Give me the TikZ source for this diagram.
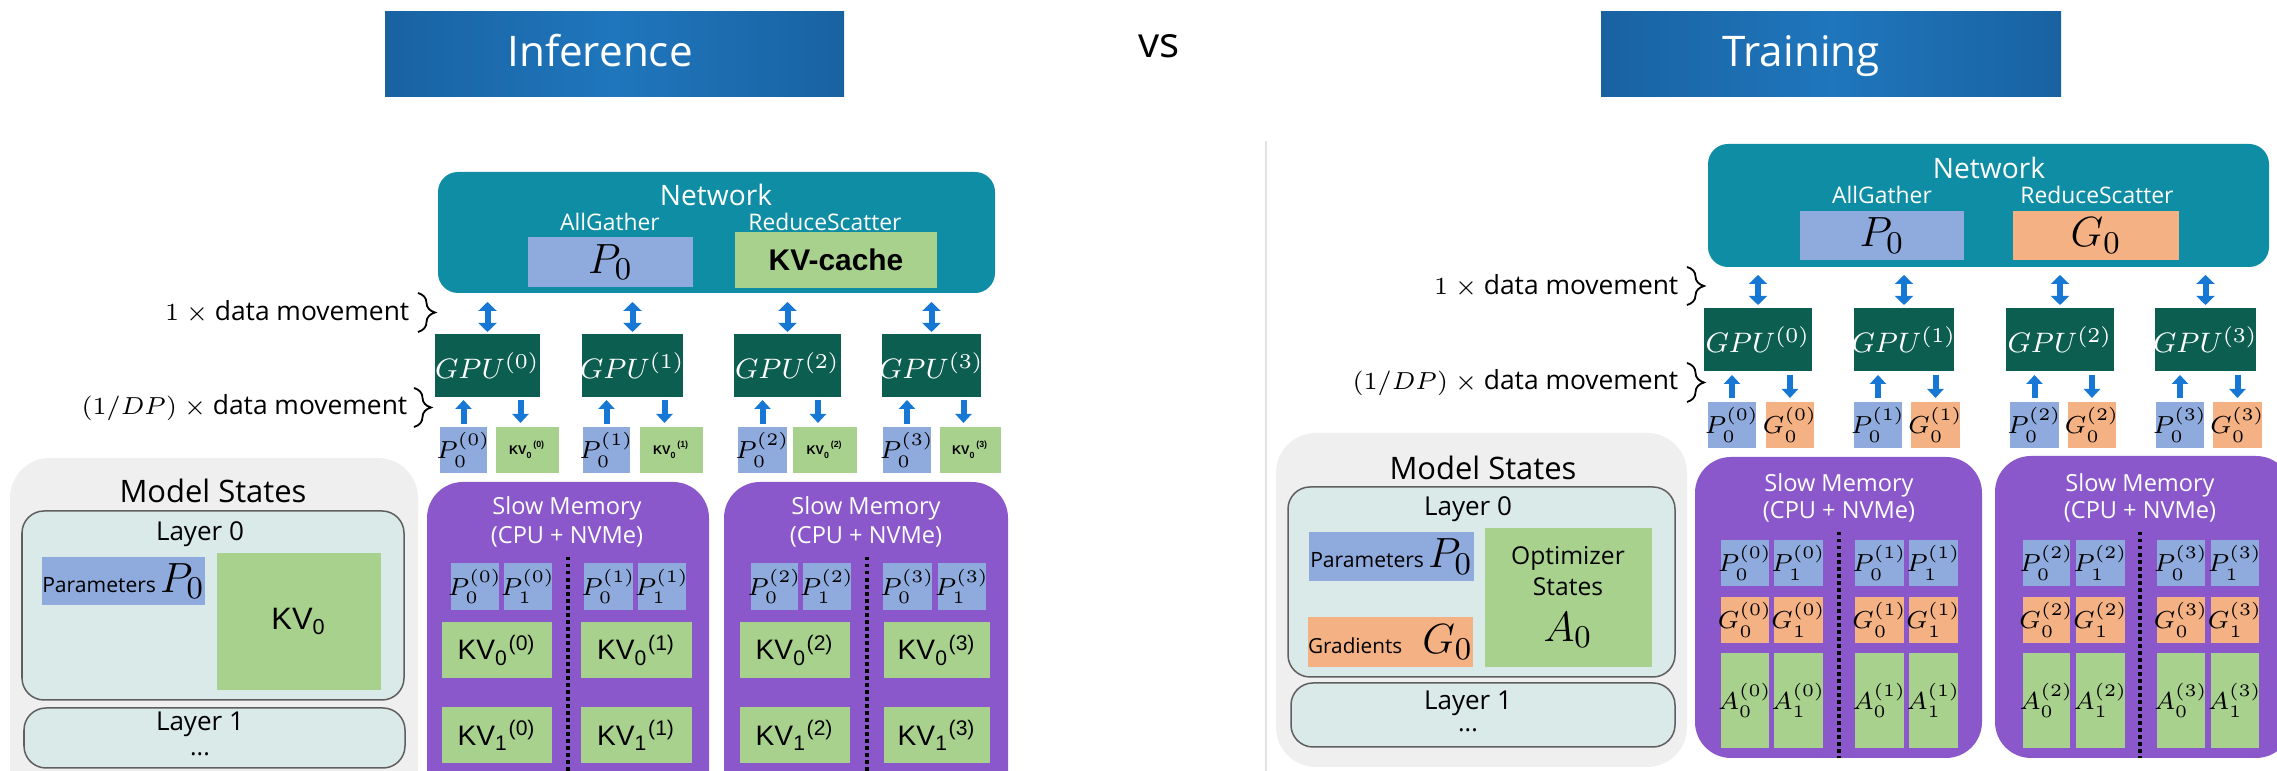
\documentclass[tikz,border=0pt]{standalone}
\usepackage{fontspec}
\setmainfont{Open Sans}
\newfontfamily\arialf{Liberation Sans}
\usetikzlibrary{arrows.meta,decorations.pathreplacing,calc}
\definecolor{cTitleA}{RGB}{25,98,162}
\definecolor{cTitleB}{RGB}{31,118,188}
\definecolor{cNet}{RGB}{14,141,164}
\definecolor{cP}{RGB}{143,170,220}
\definecolor{cK}{RGB}{169,209,142}
\definecolor{cG}{RGB}{244,177,131}
\definecolor{cGPU}{RGB}{12,94,80}
\definecolor{cArr}{RGB}{22,119,212}
\definecolor{cPur}{RGB}{138,88,202}
\definecolor{cPanel}{RGB}{239,239,239}
\definecolor{cLayer}{RGB}{217,234,233}
\definecolor{cLayerB}{RGB}{95,95,95}
\definecolor{cEdge}{RGB}{226,226,226}
\newcommand\fsz[1]{\fontsize{#1}{#1}\selectfont}
\newcommand\tkv[1]{{\arialf\bfseries\fsz{3.6}KV\textsubscript{0}\textsuperscript{(#1)}}}
\newcommand\kvc[2]{{\arialf\fsz{8}KV\textsubscript{#1}\textsuperscript{(#2)}}}
% box node: style, name, x1, y1, x2, y2, text (text never widens the box)
\newcommand\bxn[7]{\node[#1,minimum width={(#5-#3)*0.01cm},minimum height={(#6-#4)*0.01cm}] (#2) at ({(#3+#5)/2},{(#4+#6)/2}) {\makebox[0pt]{#7}};}
\begin{document}
\begin{tikzpicture}[x=0.01cm,y=-0.01cm,
 bx/.style={inner sep=0pt,outer sep=0pt},
 pb/.style={bx,fill=cP}, gb/.style={bx,fill=cG}, kb/.style={bx,fill=cK},
 gpu/.style={bx,fill=cGPU,text=white,font=\fsz{8.3}},
 cellf/.style={font=\fsz{7.5}},
 big/.style={font=\fsz{12.5}},
 net/.style={bx,fill=cNet,rounded corners=0.2cm},
 nettitle/.style={text=white,font=\fsz{8},inner sep=0pt},
 netsub/.style={text=white,font=\fsz{6.5},inner sep=0pt},
 title/.style={bx,left color=cTitleA,right color=cTitleA,middle color=cTitleB},
 titletext/.style={text=white,font=\fsz{12},anchor=base,inner sep=0pt},
 purp/.style={bx,fill=cPur,rounded corners=0.36cm},
 smt/.style={text=white,font=\fsz{6.7},inner sep=0pt},
 panel/.style={bx,fill=cPanel,rounded corners=0.4cm},
 layer/.style={bx,fill=cLayer,draw=cLayerB,line width=0.015cm,rounded corners=0.22cm},
 lt/.style={font=\fsz{7.4},inner sep=0pt},
 mst/.style={font=\fsz{8.8},inner sep=0pt},
 dm/.style={font=\fsz{7.5},anchor=east,inner sep=0pt},
 brc/.style={decorate,decoration={brace,amplitude=0.17cm},line width=0.018cm},
 dbl/.style={draw=cArr,line width=0.06cm,arrows={Triangle[width=0.18cm,length=0.09cm]-Triangle[width=0.18cm,length=0.09cm]}},
 sgl/.style={draw=cArr,line width=0.06cm,arrows={-Triangle[width=0.16cm,length=0.09cm]}},
 dotl/.style={line width=0.035cm,dash pattern=on 0.035cm off 0.035cm},
]
\useasboundingbox (0,0) rectangle (2277,771);
\clip (0,0) rectangle (2277,771);
\fill[white] (0,0) rectangle (2277,771);

% ---------- titles
\bxn{title}{tinf}{385}{12}{844}{97}{}
\node[titletext] (tinft) at (600,67) {Inference};
\node[font=\fsz{12},anchor=base,inner sep=0pt] (vs) at (1159,58) {vs};
\bxn{title}{ttr}{1601}{12}{2061}{97}{}
\node[titletext] (ttrt) at (1801,67) {Training};

% ================= LEFT: inference
\bxn{net}{lnet}{438}{172}{995}{293}{}
\node[nettitle] (lnett) at (716,195) {Network};
\node[netsub] (lag) at (610,222) {AllGather};
\node[netsub] (lrs) at (825,222) {ReduceScatter};
\bxn{pb,big}{lnp}{528}{237}{693}{287}{$P_0$}
\bxn{kb,font={\arialf\bfseries\fsz{8.5}}}{lnk}{735}{232}{937}{288}{KV-cache}

\foreach \i/\a/\b in {0/435/540,1/582/683,2/734/841,3/882/981}
  {\bxn{gpu}{lg\i}{\a}{334}{\b}{397}{$GPU^{(\i)}$}}

\foreach \i/\a/\b/\c/\d in {0/440/487/496/559,1/583/630/640/703,2/738/787/793/857,3/883/931/940/1001}{
  \bxn{pb,cellf}{lsp\i}{\a}{427}{\b}{473}{$P_0^{(\i)}$}
  \bxn{kb}{lsk\i}{\c}{427}{\d}{473}{\tkv{\i}}
  \draw[dbl,shorten <=0.09cm,shorten >=0.02cm] (lg\i.north |- lnet.south) -- (lg\i.north);
  \draw[sgl,shorten <=0.03cm,shorten >=0.03cm] (lsp\i.north) -- (lsp\i.north |- lg\i.south);
  \draw[sgl,shorten <=0.03cm,shorten >=0.04cm] ($(lsk\i.north |- lg\i.south)+(-7,0)$) -- ($(lsk\i.north)+(-7,0)$);
}

\node[dm] (ldm1) at (410,312) {$1$ $\times$ data movement};
\node[dm] (ldm2) at (408,408) {$(1/DP)$ $\times$ data movement};
\draw[brc] (418,293) -- (418,332);
\draw[brc] (414,388) -- (414,427);

% model states left
\bxn{panel}{lpanel}{10}{458}{418}{810}{}
\node[mst] (lmst) at (213,491) {Model States};
\bxn{layer}{ll0}{22}{511}{404}{700}{}
\node[lt] (ll0t) at (200,534) {Layer 0};
\bxn{pb}{lpar}{42}{557}{205}{605}{{\fsz{6}Parameters}\hspace{0.04cm}{\fsz{12.5}$P_0$}}
\bxn{kb,font={\arialf\fsz{8.8}}}{lkv}{217}{553}{381}{690}{KV\textsubscript{0}}
\bxn{layer}{ll1}{24}{708}{405}{768}{}
\node[lt] (ll1t) at (200,724) {Layer 1};
\node[font=\fsz{7},inner sep=0pt] (ll1d) at (200,754) {...};

% slow memory left
\bxn{purp}{lm1}{427}{482}{709}{830}{}
\bxn{purp}{lm2}{724}{482}{1008}{830}{}
\node[smt] (lm1a) at (567,508) {Slow Memory};
\node[smt] (lm1b) at (567,537) {(CPU + NVMe)};
\node[smt] (lm2a) at (866,508) {Slow Memory};
\node[smt] (lm2b) at (866,537) {(CPU + NVMe)};
\draw[dotl] (568,557) -- (568,771);
\draw[dotl] (867,557) -- (867,771);
\foreach \a/\b/\s/\g in {451/499/0/0,504/552/1/0,584/633/0/1,638/686/1/1,751/798/0/2,803/851/1/2,883/932/0/3,938/986/1/3}
  {\bxn{pb,cellf}{lc\s\g}{\a}{563}{\b}{610}{$P_{\s}^{(\g)}$}}
\foreach \a/\b/\g in {442/552/0,581/692/1,740/850/2,884/990/3}{
  \bxn{kb}{lkA\g}{\a}{622}{\b}{678}{\kvc{0}{\g}}
  \bxn{kb}{lkB\g}{\a}{707}{\b}{763}{\kvc{1}{\g}}
}

% ================= RIGHT: training
\draw[cEdge,line width=0.015cm] (1266,141) -- (1266,771);
\bxn{net}{rnet}{1708}{144}{2269}{267}{}
\node[nettitle] (rnett) at (1989,168) {Network};
\node[netsub] (rag) at (1882,195) {AllGather};
\node[netsub] (rrs) at (2097,195) {ReduceScatter};
\bxn{pb,big}{rnp}{1800}{211}{1964}{260}{$P_0$}
\bxn{gb,big}{rng}{2013}{211}{2179}{260}{$G_0$}

\foreach \i/\a/\b in {0/1704/1812,1/1854/1954,2/2006/2114,3/2155/2256}
  {\bxn{gpu}{rg\i}{\a}{308}{\b}{371}{$GPU^{(\i)}$}}

\foreach \i/\a/\b/\c/\d in {0/1708/1756/1766/1814,1/1854/1902/1911/1960,2/2010/2059/2068/2116,3/2156/2204/2213/2262}{
  \bxn{pb,cellf}{rsp\i}{\a}{402}{\b}{448}{$P_0^{(\i)}$}
  \bxn{gb,cellf}{rsg\i}{\c}{402}{\d}{448}{$G_0^{(\i)}$}
  \draw[dbl,shorten <=0.08cm,shorten >=0.03cm] (rg\i.north |- rnet.south) -- (rg\i.north);
  \draw[sgl,shorten <=0.04cm,shorten >=0.04cm] (rsp\i.north) -- (rsp\i.north |- rg\i.south);
  \draw[sgl,shorten <=0.04cm,shorten >=0.04cm] (rsg\i.north |- rg\i.south) -- (rsg\i.north);
}

\node[dm] (rdm1) at (1679,286) {$1$ $\times$ data movement};
\node[dm] (rdm2) at (1679,383) {$(1/DP)$ $\times$ data movement};
\draw[brc] (1687,267) -- (1687,305);
\draw[brc] (1687,363) -- (1687,402);

% model states right
\bxn{panel}{rpanel}{1276}{433}{1687}{767}{}
\node[mst] (rmst) at (1483,468) {Model States};
\bxn{layer}{rl0}{1288}{487}{1675}{677}{}
\node[lt] (rl0t) at (1468,509) {Layer 0};
\bxn{pb}{rpar}{1309}{532}{1474}{581}{{\fsz{6}Parameters}\hspace{0.04cm}{\fsz{12.5}$P_0$}}
\bxn{gb}{rgra}{1308}{617}{1473}{667}{{\fsz{5.9}Gradients}\hspace{0.2cm}{\fsz{12.5}$G_0$}}
\bxn{kb}{ropt}{1485}{528}{1652}{667}{}
\node[font=\fsz{7},inner sep=0pt] (ropt1) at (1568,558) {Optimizer};
\node[font=\fsz{7},inner sep=0pt] (ropt2) at (1568,587) {States};
\node[big,inner sep=0pt] (ropt3) at (1568,630) {$A_0$};
\bxn{layer}{rl1}{1291}{683}{1675}{747}{}
\node[lt] (rl1t) at (1468,703) {Layer 1};
\node[font=\fsz{7},inner sep=0pt] (rl1d) at (1468,730) {...};

% slow memory right
\bxn{purp}{rm1}{1695}{457}{1982}{758}{}
\bxn{purp}{rm2}{1995}{456}{2292}{758}{}
\node[smt] (rm1a) at (1839,485) {Slow Memory};
\node[smt] (rm1b) at (1839,512) {(CPU + NVMe)};
\node[smt] (rm2a) at (2140,485) {Slow Memory};
\node[smt] (rm2b) at (2140,512) {(CPU + NVMe)};
\draw[dotl] (1839,532) -- (1839,758);
\draw[dotl] (2140,532) -- (2140,758);
\foreach \a/\b/\s/\g in {1721/1769/0/0,1774/1823/1/0,1855/1904/0/1,1909/1958/1/1,2023/2070/0/2,2076/2125/1/2,2157/2205/0/3,2211/2259/1/3}{
  \bxn{pb,cellf}{rcP\s\g}{\a}{540}{\b}{586}{$P_{\s}^{(\g)}$}
  \bxn{gb,cellf}{rcG\s\g}{\a}{597}{\b}{643}{$G_{\s}^{(\g)}$}
  \bxn{kb,cellf}{rcA\s\g}{\a}{653}{\b}{748}{$A_{\s}^{(\g)}$}
}
\end{tikzpicture}
\end{document}
